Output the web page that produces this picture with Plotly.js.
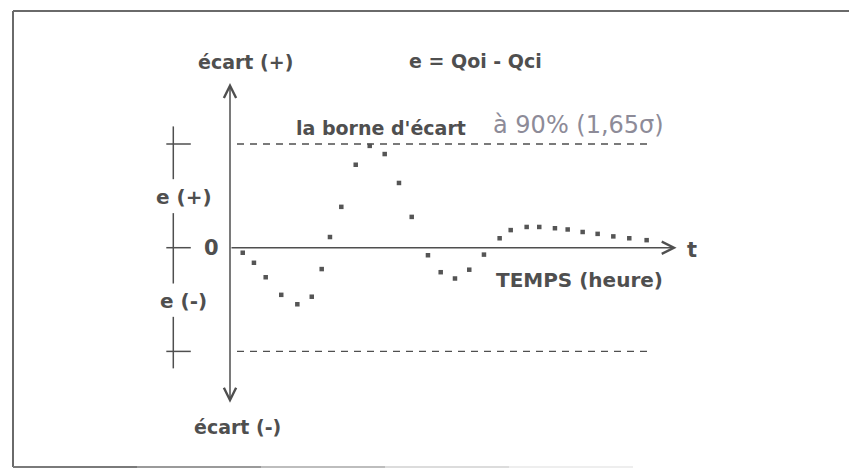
<!DOCTYPE html>
<html>
<head>
<meta charset="utf-8">
<script src="https://cdn.plot.ly/plotly-3.0.1.min.js"></script>
<style>
  html, body { margin: 0; padding: 0; background: #ffffff; }
  #graph { width: 849px; height: 471px; }
</style>
</head>
<body>
<div id="graph"></div>
<script>
// time (heure) and ecart e = Qoi - Qci, in sigma units
var heures = [0.91, 1.71, 2.55, 3.66, 4.81, 5.84, 6.55, 7.14, 7.95, 8.98,
  9.98, 11.05, 12.07, 12.98, 14.14, 15.05, 16.07, 17.09, 18.14, 19.26,
  20.05, 21.19, 22.09, 23.21, 24.12, 25.19, 26.26, 27.38, 28.52, 29.76];
var ecart = [-0.08, -0.24, -0.47, -0.75, -0.9, -0.78, -0.34, 0.17, 0.65, 1.32,
  1.62, 1.49, 1.03, 0.49, -0.12, -0.39, -0.49, -0.35, -0.11, 0.15,
  0.28, 0.33, 0.33, 0.31, 0.29, 0.25, 0.22, 0.18, 0.15, 0.12];
var borne = 1.65; // borne d'ecart a 90%
var borneDebut = 0.5, borneFin = 29.8;
var tMax = 31.9; // bout de la fleche du temps
var ecartHaut = 2.62, ecartBas = -2.49;
var echelleX = -4.05;
var echelleSegments = [[1.93, 1.09], [0.55, -0.57], [-1.1, -1.92]];
var echelleCroix = [borne, 0, -borne];

var W = 849, H = 471;
var ink = "#4f4f4f";
var textFont = { family: "DejaVu Sans", size: 19, color: ink, weight: "bold" };

function px(x) { return x / W; }
function py(y) { return 1 - y / H; }

function plotEcart() {
  var shapes = [];
  // cadre scanne (le bas s'efface vers la droite)
  shapes.push({ type: "line", xref: "paper", yref: "paper", x0: px(13), x1: 1, y0: py(11), y1: py(11), line: { color: "#6a6a6a", width: 2 } });
  shapes.push({ type: "line", xref: "paper", yref: "paper", x0: px(13), x1: px(13), y0: py(11), y1: py(467), line: { color: "#6a6a6a", width: 2 } });
  var fondu = ["#7a7a7a", "#9a9a9a", "#bdbdbd", "#dcdcdc", "#eeeeee"];
  for (var k = 0; k < fondu.length; k++) {
    shapes.push({ type: "line", xref: "paper", yref: "paper", x0: px(13 + k * 124), x1: px(13 + (k + 1) * 124), y0: py(467), y1: py(467), line: { color: fondu[k], width: 2 } });
  }

  // bornes +/- 1,65 sigma
  shapes.push({ type: "line", x0: borneDebut, x1: borneFin, y0: borne, y1: borne, line: { color: ink, width: 1.3, dash: "7px,6px" } });
  shapes.push({ type: "line", x0: borneDebut, x1: borneFin, y0: -borne, y1: -borne, line: { color: ink, width: 1.3, dash: "7px,6px" } });

  // echelle a gauche
  for (var i = 0; i < echelleSegments.length; i++) {
    shapes.push({ type: "line", x0: echelleX, x1: echelleX, y0: echelleSegments[i][0], y1: echelleSegments[i][1], line: { color: ink, width: 1.5 } });
  }
  for (var j = 0; j < echelleCroix.length; j++) {
    shapes.push({ type: "line", x0: echelleX - 0.5, x1: echelleX + 1.25, y0: echelleCroix[j], y1: echelleCroix[j], line: { color: ink, width: 1.5 } });
  }

  var annotations = [
    // axe vertical, fleche des deux cotes
    { x: 0, y: ecartHaut, ax: 0, ay: ecartBas, axref: "x", ayref: "y", text: "", showarrow: true,
      arrowhead: 5, startarrowhead: 5, arrowside: "end+start", arrowsize: 1.6, startarrowsize: 1.6, arrowwidth: 1.5, arrowcolor: ink, standoff: 0, startstandoff: 0 },
    // axe du temps
    { x: tMax, y: 0, ax: 0, ay: 0, axref: "x", ayref: "y", text: "", showarrow: true,
      arrowhead: 5, arrowsize: 1.6, arrowwidth: 1.5, arrowcolor: ink, standoff: 0 },
    { x: 1.14, y: 2.955, text: "écart (+)", showarrow: false, font: textFont },
    { x: 17.54, y: 2.963, text: "e = Qoi - Qci", showarrow: false, font: textFont },
    { x: 4.57, y: 1.905, text: "la borne d'écart", showarrow: false, xanchor: "left", font: textFont },
    { x: 18.61, y: 1.95, text: "à 90% (1,65σ)", showarrow: false, xanchor: "left",
      font: { family: "DejaVu Sans", size: 24, color: "#8d8b98" } },
    { x: -3.29, y: 0.8, text: "e (+)", showarrow: false, font: { family: "DejaVu Sans", size: 20, color: ink, weight: "bold" } },
    { x: -1.31, y: 0, text: "0", showarrow: false, font: { family: "DejaVu Sans", size: 21, color: ink, weight: "bold" } },
    { x: -3.34, y: -0.85, text: "e (-)", showarrow: false, font: { family: "DejaVu Sans", size: 20, color: ink, weight: "bold" } },
    { x: 18.86, y: -0.52, text: "TEMPS (heure)", showarrow: false, xanchor: "left",
      font: { family: "DejaVu Sans", size: 20, color: ink, weight: "bold" } },
    { x: 33.0, y: -0.04, text: "t", showarrow: false, font: { family: "DejaVu Sans", size: 21, color: ink, weight: "bold" } },
    { x: 0.54, y: -2.86, text: "écart (-)", showarrow: false, font: textFont }
  ];

  Plotly.newPlot(
    "graph",
    [
      {
        x: heures,
        y: ecart,
        mode: "markers",
        type: "scatter",
        marker: { symbol: "square", size: 4.5, color: "#555555" },
        cliponaxis: false,
        hoverinfo: "x+y"
      }
    ],
    {
      width: W,
      height: H,
      margin: { l: 0, r: 0, t: 0, b: 0 },
      paper_bgcolor: "#ffffff",
      plot_bgcolor: "#ffffff",
      showlegend: false,
      xaxis: { range: [-230 / 14, 619 / 14], visible: false, fixedrange: true },
      yaxis: { range: [-(471 - 247.7) / 62.85, 247.7 / 62.85], visible: false, fixedrange: true },
      shapes: shapes,
      annotations: annotations
    },
    { displayModeBar: false, staticPlot: true }
  );
}

plotEcart();
</script>
</body>
</html>
